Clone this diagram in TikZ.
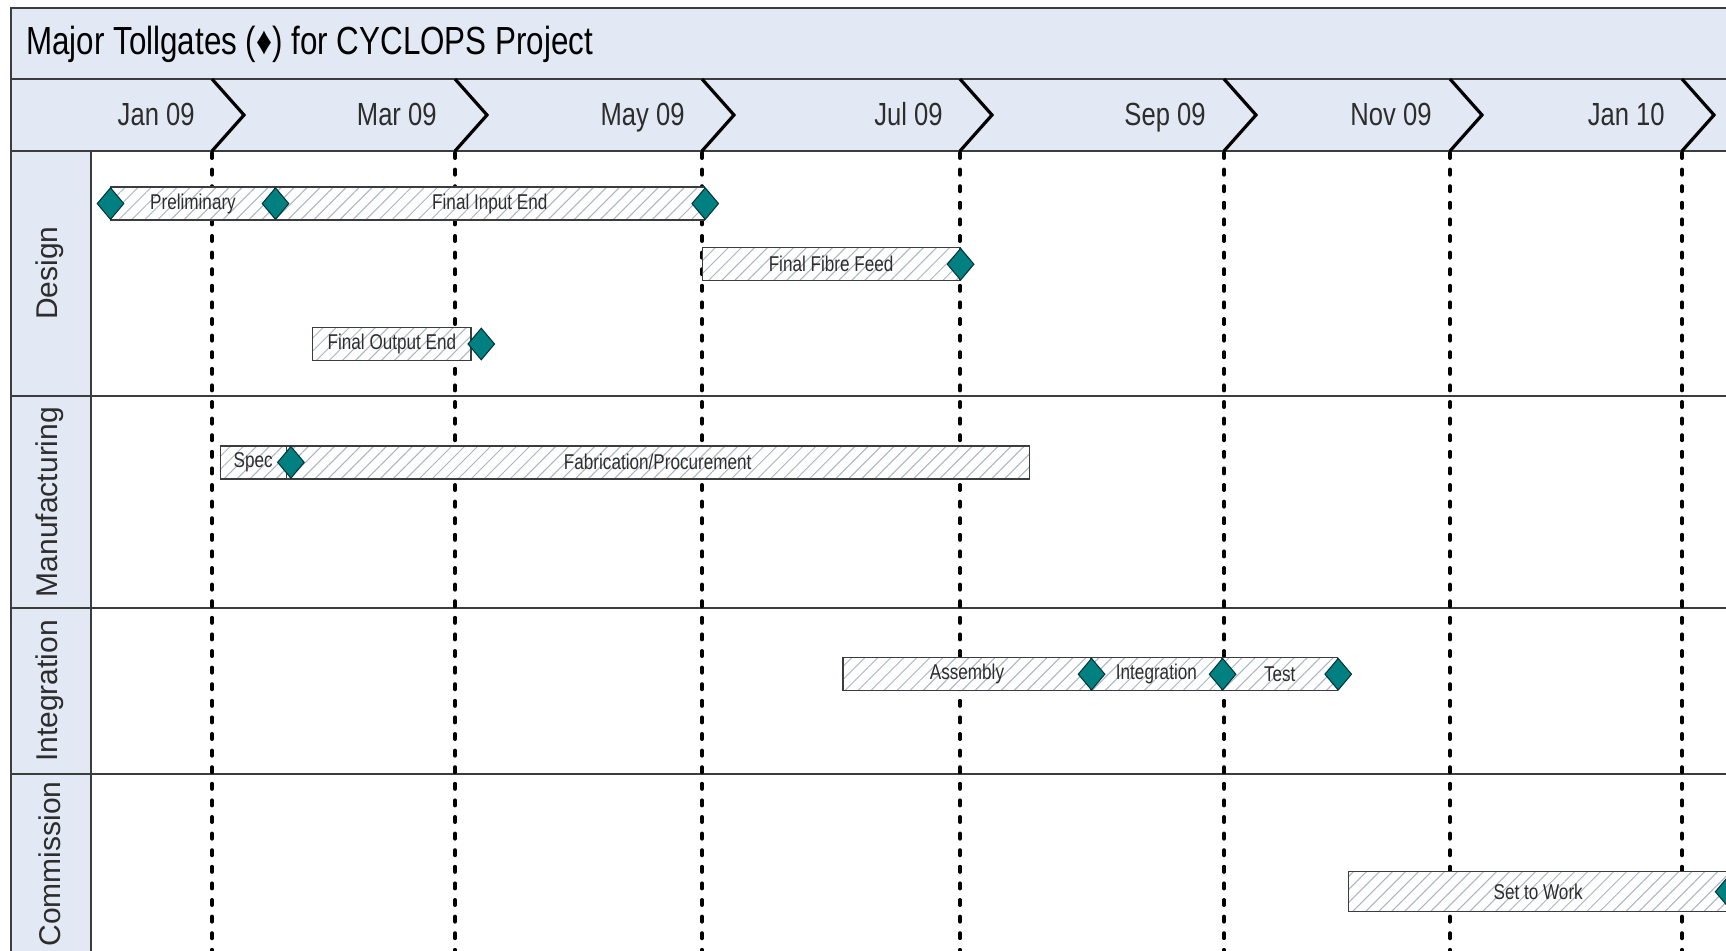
\documentclass[tikz,border=0pt]{standalone}
\usepackage{fontspec}
\setmainfont{Liberation Sans}
\newfontfamily\narrowsf{Liberation Sans}[FakeStretch=0.8]
\usepackage{xcolor}
\usepackage{tikz}
\usetikzlibrary{shapes,positioning,patterns.meta}
\definecolor{bandblue}{RGB}{227,233,244}
\definecolor{framegray}{RGB}{60,60,60}
\definecolor{gateteal}{RGB}{0,128,128}
\definecolor{hatchgray}{RGB}{170,180,195}
\definecolor{textgray}{RGB}{45,45,45}

\begin{document}
\begin{tikzpicture}[x=0.5pt, y=-0.5pt,
    band/.style={fill=bandblue, draw=framegray, line width=1pt},
    lane/.style={rotate=90, font=\fontsize{15}{18}\selectfont, text=textgray},
    month/.style={anchor=base east, inner sep=0pt, font=\narrowsf\fontsize{16}{19}\selectfont, text=textgray},
    chevron/.style={line width=1.6pt, line join=miter},
    tollline/.style={line width=2pt, line cap=round, dash pattern=on 2.5pt off 5.8pt},
    bar/.style={rectangle, draw=framegray, line width=0.7pt, preaction={fill=white},
                pattern={Lines[angle=45,distance=4.6pt,line width=0.5pt]}, pattern color=hatchgray,
                minimum width=#1, minimum height=16.5pt, inner sep=0pt,
                font=\narrowsf\fontsize{10.7}{12}\selectfont, text=textgray},
    gate/.style={diamond, draw=black!60!gateteal, fill=gateteal, line width=0.5pt,
                 minimum width=13.5pt, minimum height=16pt, inner sep=0pt}
]
\useasboundingbox (0,0) rectangle (1726,950);
\fill[white] (0,0) rectangle (1726,950);
\clip (0,0) rectangle (1726,950);

% Title and month bands
\draw[band] (11,8) rectangle (1760,79);
\draw[band] (11,79) rectangle (1760,151);
\node[anchor=west, inner sep=0pt, font=\narrowsf\fontsize{19.6}{23}\selectfont] (title) at (26,44) {Major Tollgates (♦) for CYCLOPS Project};

% Swim lanes
\draw[band] (11,151) rectangle (91,980);
\draw[framegray, line width=1pt] (11,396) -- (1760,396);
\draw[framegray, line width=1pt] (11,608) -- (1760,608);
\draw[framegray, line width=1pt] (11,774) -- (1760,774);
\node[lane] (design) at (50,273) {Design};
\node[lane] (manuf) at (50,502) {Manufacturing};
\node[lane] (integr) at (50,691) {Integration};
\node[lane] (commis) at (50,864) {Commission};

% Months
\node[month] (jan09) at (195,125) {Jan 09};
\node[month] (mar09) at (437,125) {Mar 09};
\node[month] (may09) at (685,125) {May 09};
\node[month] (jul09) at (943,125) {Jul 09};
\node[month] (sep09) at (1206,125) {Sep 09};
\node[month] (nov09) at (1432,125) {Nov 09};
\node[month] (jan10) at (1665,125) {Jan 10};

% Chevrons and tollgate lines
\draw[chevron] (212,79) -- (244,115) -- (212,151);
\draw[tollline] (212,153) -- (212,960);
\draw[chevron] (455,79) -- (487,115) -- (455,151);
\draw[tollline] (455,153) -- (455,960);
\draw[chevron] (702,79) -- (734,115) -- (702,151);
\draw[tollline] (702,153) -- (702,960);
\draw[chevron] (960,79) -- (992,115) -- (960,151);
\draw[tollline] (960,153) -- (960,960);
\draw[chevron] (1224,79) -- (1256,115) -- (1224,151);
\draw[tollline] (1224,153) -- (1224,960);
\draw[chevron] (1450,79) -- (1482,115) -- (1450,151);
\draw[tollline] (1450,153) -- (1450,960);
\draw[chevron] (1682,79) -- (1714,115) -- (1682,151);
\draw[tollline] (1682,153) -- (1682,960);

% Design
\node[bar=82pt] (prelim) at (193,203.6) {Preliminary};
\node[bar=214.75pt] (input) at (489.8,203.6) {Final Input End};
\node[bar=128.8pt] (fibre) at (831.1,264.2) {Final Fibre Feed};
\node[bar=79.25pt] (output) at (391.9,344) {Final Output End};

% Manufacturing
\node[bar=33pt] (spec) at (253.2,462.3) {Spec};
\node[bar=371.5pt] (fab) at (657.7,462.3) {Fabrication/Procurement};

% Integration
\node[bar=123.85pt] (assembly) at (967,674.2) {Assembly};
\node[bar=65.5pt] (integ) at (1156.4,674.2) {Integration};
\node[bar=57.8pt] (test) at (1279.7,674.2) {Test};

% Commission
\node[bar=189.75pt, minimum height=20pt] (setwork) at (1538.2,891.7) {Set to Work};

% Tollgates
\node[gate] (g1) at (prelim.west) {};
\node[gate] (g2) at (prelim.east) {};
\node[gate] (g3) at (input.east) {};
\node[gate] (g4) at (fibre.east) {};
\node[gate, right=-2.3pt of output] (g5) {};
\node[gate, xshift=2pt] (g6) at (spec.east) {};
\node[gate] (g7) at (assembly.east) {};
\node[gate] (g8) at (integ.east) {};
\node[gate] (g9) at (test.east) {};
\node[gate] (g10) at (setwork.east) {};

\end{tikzpicture}
\end{document}
